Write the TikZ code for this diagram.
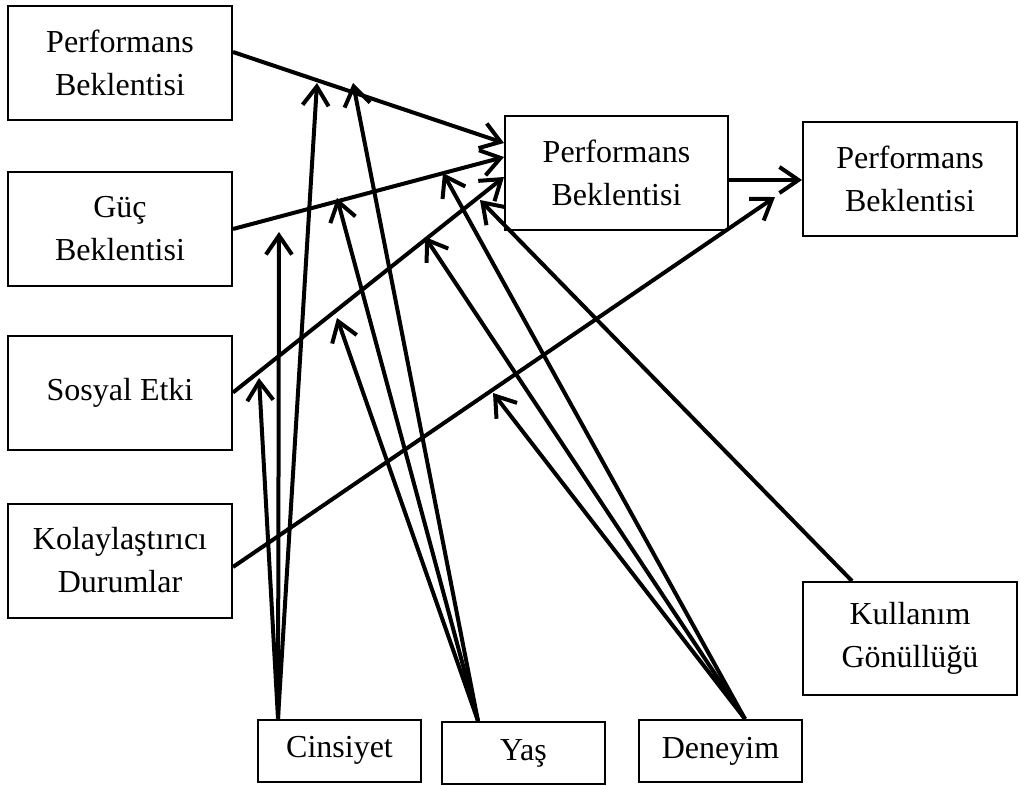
\documentclass[tikz,border=0pt]{standalone}
\usepackage{fontspec}
\setmainfont{Liberation Serif}
\usetikzlibrary{arrows.meta}
\begin{document}
\begin{tikzpicture}[x=1pt,y=-1pt,
  box/.style={draw, line width=2pt, inner sep=0pt, align=center,
    font=\fontsize{32pt}{43pt}\selectfont},
  wide/.style={box, minimum width=224pt, minimum height=114pt},
  small/.style={box, minimum width=163pt, minimum height=62pt},
  link/.style={line width=4pt, -{Straight Barb[length=19pt,width=26pt]}}]
\useasboundingbox (0,0) rectangle (1020,785);

% constructs on the left
\node[wide] (pb)  at (120,63)    {Performans\\Beklentisi};
\node[wide] (gb)  at (120,229)   {Güç\\Beklentisi};
\node[wide] (se)  at (120,392.5) {Sosyal Etki};
\node[wide] (kd)  at (120,560.5) {Kolaylaştırıcı\\Durumlar};

% intention and behaviour
\node[wide, minimum width=223pt] (mid) at (616.5,173) {Performans\\Beklentisi};
\node[wide, minimum width=214pt] (rb)  at (910,178.5) {Performans\\Beklentisi};

% moderators
\node[wide, minimum width=214pt, minimum height=113pt] (kg) at (910,638.5) {Kullanım\\Gönüllüğü};
\node[small] (cin) at (339.5,750.5) {Cinsiyet};
\node[small] (yas) at (523.5,753)   {Yaş};
\node[small] (den) at (720.5,751)   {Deneyim};

% free ends of the moderating arrows
\coordinate (kdT) at (775,197);
\coordinate (kgT) at (480,200);
\coordinate (c1) at (317,83);
\coordinate (c2) at (279,232);
\coordinate (c3) at (259,378);
\coordinate (y1) at (353,83);
\coordinate (y2) at (337,198);
\coordinate (y3) at (337,318);
\coordinate (d1) at (443,173);
\coordinate (d2) at (425,237);
\coordinate (d3) at (493,393);

% main paths
\draw[link] ([yshift=11pt]pb.east) -- ([yshift=30pt]mid.west);
\draw[link] (gb.east) -- ([yshift=16pt]mid.west);
\draw[link] (se.east) -- ([yshift=-4pt]mid.west);
\draw[link] ([yshift=-6.5pt]kd.east) -- (kdT);
\draw[link] ([yshift=-7pt]mid.east) -- ([yshift=-1.5pt]rb.west);
\draw[link] ([xshift=-58pt]kg.north) -- (kgT);

% gender
\draw[link] ([xshift=-61.5pt]cin.north) -- (c1);
\draw[link] ([xshift=-61.5pt]cin.north) -- (c2);
\draw[link] ([xshift=-61.5pt]cin.north) -- (c3);
% age
\draw[link] ([xshift=-45.5pt]yas.north) -- (y1);
\draw[link] ([xshift=-45.5pt]yas.north) -- (y2);
\draw[link] ([xshift=-45.5pt]yas.north) -- (y3);
% experience
\draw[link] ([xshift=24.5pt]den.north) -- (d1);
\draw[link] ([xshift=24.5pt]den.north) -- (d2);
\draw[link] ([xshift=24.5pt]den.north) -- (d3);
\end{tikzpicture}
\end{document}
